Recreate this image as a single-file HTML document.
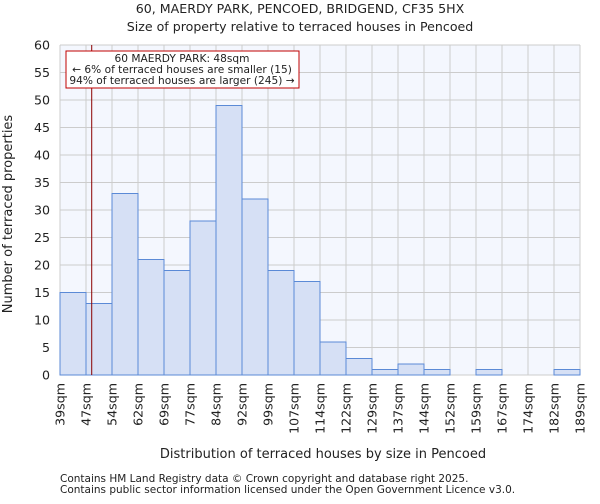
<!DOCTYPE html>
<html><head><meta charset="utf-8"><style>
body{margin:0;background:#fff;font-family:"DejaVu Sans","Liberation Sans",sans-serif;}
svg text{font-family:"DejaVu Sans","Liberation Sans",sans-serif;fill:#222;}
</style></head><body>
<svg id="c" width="600" height="500" xmlns="http://www.w3.org/2000/svg">
<text x="300" y="13" text-anchor="middle" font-size="12.6">60, MAERDY PARK, PENCOED, BRIDGEND, CF35 5HX</text>
<text x="300" y="31" text-anchor="middle" font-size="12.6">Size of property relative to terraced houses in Pencoed</text>
<g id="plot"></g>
<text x="323" y="458" text-anchor="middle" font-size="13">Distribution of terraced houses by size in Pencoed</text>
<text transform="translate(12,214) rotate(-90)" text-anchor="middle" font-size="13">Number of terraced properties</text>
<text x="60" y="482" font-size="10.5" fill="#555">Contains HM Land Registry data © Crown copyright and database right 2025.</text>
<text x="60" y="493" font-size="10.5" fill="#555">Contains public sector information licensed under the Open Government Licence v3.0.</text>
</svg>
<script>
const binLabels=["39sqm","47sqm","54sqm","62sqm","69sqm","77sqm","84sqm","92sqm","99sqm","107sqm","114sqm","122sqm","129sqm","137sqm","144sqm","152sqm","159sqm","167sqm","174sqm","182sqm","189sqm"];
const counts=[15,13,33,21,19,28,49,32,19,17,6,3,1,2,1,0,1,0,0,1];
const yTicks=[0,5,10,15,20,25,30,35,40,45,50,55,60];
const subjectSize=48;
const binEdges=[39,47,54,62,69,77,84,92,99,107,114,122,129,137,144,152,159,167,174,182,189];
const X0=60,X1=580,Y0=375,Y1=45,YMAX=60;
const NS="http://www.w3.org/2000/svg";
const g=document.getElementById('plot');
const bw=(X1-X0)/counts.length;
const xb=i=>X0+i*bw;
const y=v=>Y0-(v/YMAX)*(Y0-Y1);
function el(t,a){const e=document.createElementNS(NS,t);for(const k in a)e.setAttribute(k,a[k]);g.appendChild(e);return e;}
const bg=el('rect',{x:X0,y:Y1,width:X1-X0,height:Y0-Y1,fill:'#f4f7fe'});


yTicks.forEach(t=>{
 const l=el('line',{x1:X0,x2:X1,y1:y(t),y2:y(t),stroke:'#cccccc','stroke-width':1});
 
 
 const tx=el('text',{x:X0-10,y:y(t)+4.5,'text-anchor':'end','font-size':12.6});
 tx.textContent=t;
 
 
});
binLabels.forEach((lab,i)=>{
 const l=el('line',{x1:xb(i),x2:xb(i),y1:Y1,y2:Y0,stroke:'#cccccc','stroke-width':1});
 
 
 const tx=el('text',{transform:`translate(${xb(i)+4.5},${Y0+8}) rotate(-90)`,'text-anchor':'end','font-size':12.6});
 tx.textContent=lab;
 
 
});
counts.forEach((c,i)=>{
 if(c<=0)return;
 const r=el('rect',{x:xb(i),y:y(c),width:bw,height:Y0-y(c),fill:'#d6e0f5',stroke:'#5b8ad6','stroke-width':1});
 
 
});
let k=0;while(k<binEdges.length-2&&subjectSize>binEdges[k+1])k++;
const sx=xb(k)+bw*(subjectSize-binEdges[k])/(binEdges[k+1]-binEdges[k])+2;
const ml=el('line',{x1:sx,x2:sx,y1:Y1,y2:Y0,stroke:'#8b0000','stroke-width':1});


const box=el('rect',{x:66,y:51,width:233,height:37,fill:'#fff',stroke:'#c00000','stroke-width':1});


["60 MAERDY PARK: 48sqm","← 6% of terraced houses are smaller (15)","94% of terraced houses are larger (245) →"].forEach((s,i)=>{
 const t=el('text',{x:182,y:62+i*11,'text-anchor':'middle','font-size':10.6});
 t.textContent=s;
 
 
});
</script>
</body></html>
